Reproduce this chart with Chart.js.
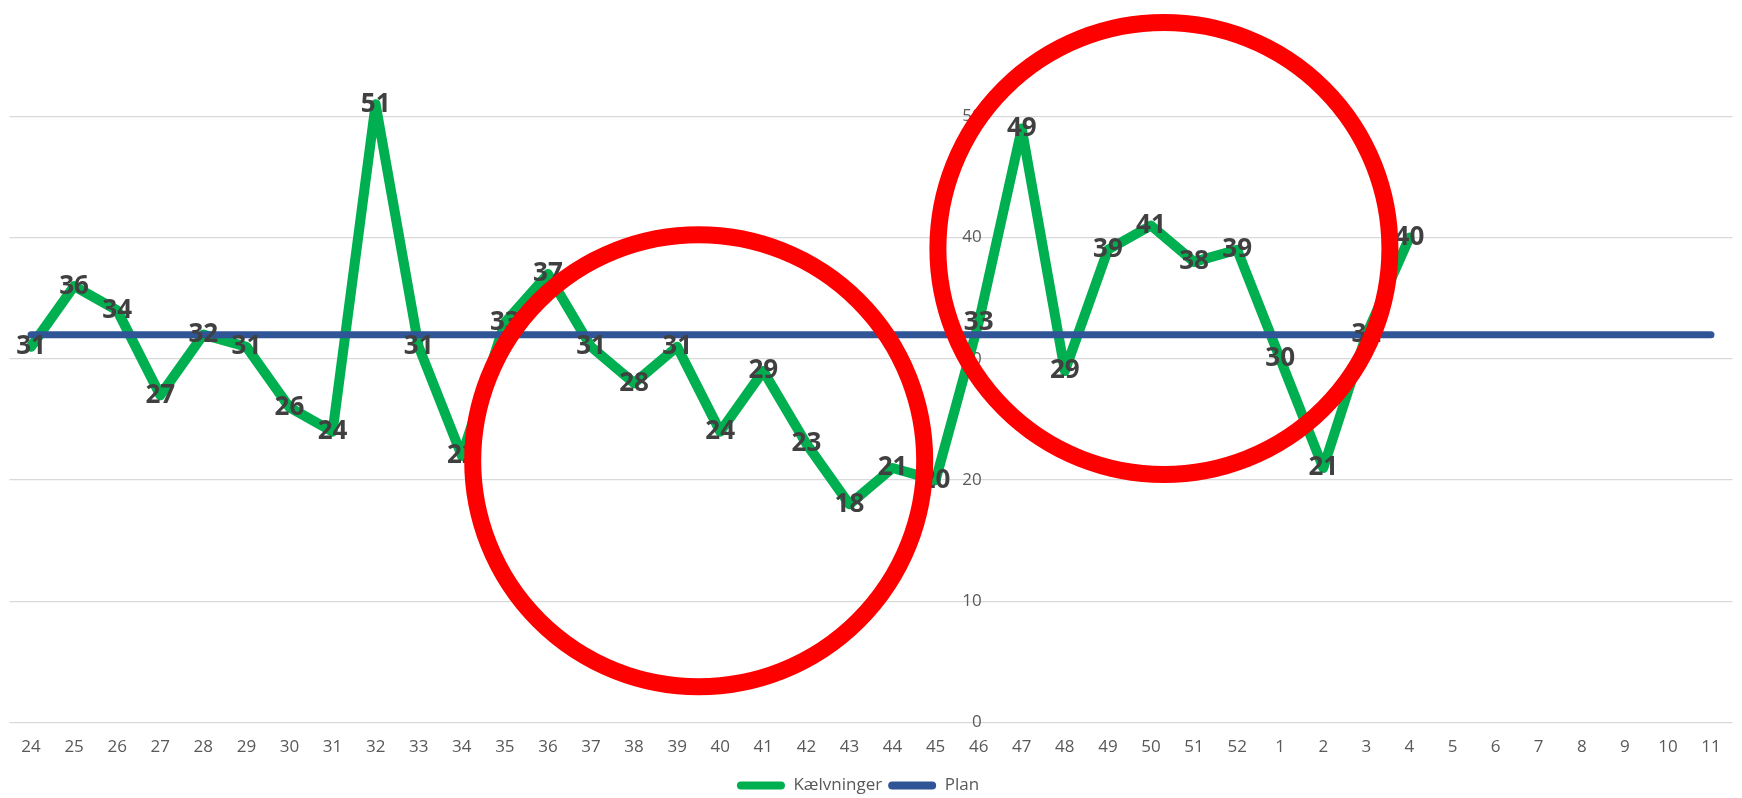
<!DOCTYPE html>
<html lang="da">
<head>
<meta charset="utf-8">
<title>Kælvninger pr. uge</title>
<script src="https://cdn.jsdelivr.net/npm/chart.js@4/dist/chart.umd.min.js"></script>
<style>
  html, body { margin: 0; padding: 0; background: #ffffff; }
  #wrap { position: relative; width: 1742px; height: 798px; }
</style>
</head>
<body>
<div id="wrap"><canvas id="chart"></canvas></div>
<script>
// Week numbers along the category axis (week 24 to week 11 of the next year)
const weeks = ['24','25','26','27','28','29','30','31','32','33','34','35','36','37','38','39','40','41','42','43','44','45','46','47','48','49','50','51','52','1','2','3','4','5','6','7','8','9','10','11'];

// Calvings per week (no registrations yet from week 5)
const calvings = [31,36,34,27,32,31,26,24,51,31,22,33,37,31,28,31,24,29,23,18,21,20,33,49,29,39,41,38,39,30,21,32,40,null,null,null,null,null,null,null];

// Planned calvings per week
const plan = [32,32,32,32,32,32,32,32,32,32,32,32,32,32,32,32,32,32,32,32,32,32,32,32,32,32,32,32,32,32,32,32,32,32,32,32,32,32,32,32];

// Value axis ticks
const valueTicks = [0,10,20,30,40,50];

const GREEN = '#00B050';
const BLUE = '#2F5597';
const TEXT = '#595959';

// Red rings that highlight two periods, centred in axis units (category index, value)
const highlightRings = [
  { x: 15.5, y: 21.6, radius: 226 },
  { x: 26.3, y: 39.1, radius: 226 }
];

// Value labels centred on each calving point, then the red rings on top
const overlayPlugin = {
  id: 'overlay',
  afterLayout(chart) {
    // nudge the legend a little left of the canvas centre
    if (chart.legend) {
      chart.legend.left -= 13;
      chart.legend.right -= 13;
    }
  },
  afterDatasetsDraw(chart) {
    const ctx = chart.ctx;
    const meta = chart.getDatasetMeta(0);
    ctx.save();
    ctx.font = 'bold 26px "Open Sans"';
    ctx.fillStyle = '#404040';
    ctx.textAlign = 'center';
    ctx.textBaseline = 'middle';
    meta.data.forEach((pt, i) => {
      const v = chart.data.datasets[0].data[i];
      if (v === null || v === undefined) return;
      ctx.fillText(String(v), pt.x, pt.y);
    });
    ctx.restore();

    const xs = chart.scales.x, ys = chart.scales.y;
    ctx.save();
    ctx.strokeStyle = '#FF0000';
    ctx.lineWidth = 17;
    highlightRings.forEach(r => {
      const cx = xs.getPixelForValue(r.x);
      const cy = ys.getPixelForValue(r.y);
      ctx.beginPath();
      ctx.arc(cx, cy, r.radius, 0, Math.PI * 2);
      ctx.stroke();
    });
    ctx.restore();
  }
};

const legendLabels = (chart) =>
  Chart.defaults.plugins.legend.labels.generateLabels(chart).map(l => ({
    ...l, fillStyle: l.strokeStyle, lineWidth: 0
  }));

new Chart(document.getElementById('chart'), {
  type: 'line',
  data: {
    labels: weeks,
    datasets: [
      {
        label: 'Kælvninger',
        data: calvings,
        borderColor: GREEN,
        backgroundColor: GREEN,
        borderWidth: 10,
        borderCapStyle: 'round',
        borderJoinStyle: 'round',
        pointRadius: 0,
        pointHoverRadius: 0,
        tension: 0,
        order: 2
      },
      {
        label: 'Plan',
        data: plan,
        borderColor: BLUE,
        backgroundColor: BLUE,
        borderWidth: 7,
        borderCapStyle: 'round',
        pointRadius: 0,
        pointHoverRadius: 0,
        tension: 0,
        order: 1
      }
    ]
  },
  options: {
    responsive: true,
    maintainAspectRatio: false,
    animation: false,
    devicePixelRatio: 1,
    layout: { padding: { left: 9.5, right: 9.5, top: 0, bottom: -6 } },
    plugins: {
      tooltip: { enabled: false },
      legend: {
        position: 'bottom',
        labels: {
          generateLabels: legendLabels,
          sort: (a, b) => a.datasetIndex - b.datasetIndex,
          boxWidth: 48,
          boxHeight: 8,
          useBorderRadius: true,
          borderRadius: 4,
          padding: 6,
          color: TEXT,
          font: { family: '"Open Sans"', size: 17 }
        }
      }
    },
    scales: {
      x: {
        type: 'category',
        offset: true,
        grid: { display: false, drawTicks: false },
        border: { display: false },
        ticks: {
          color: TEXT,
          font: { family: '"Open Sans"', size: 17 },
          padding: 14,
          maxRotation: 0,
          autoSkip: false
        }
      },
      y: {
        position: { x: 22.07 },
        min: 0,
        max: 59.6,
        afterBuildTicks(scale) {
          scale.ticks = valueTicks.map(v => ({ value: v }));
        },
        afterFit(scale) {
          // the axis sits inside the plot, so it needs no room above or below
          scale.paddingTop = 0;
          scale.paddingBottom = 0;
        },
        grid: { color: '#D9D9D9', lineWidth: 1.3, drawTicks: false },
        border: { display: false },
        ticks: {
          color: TEXT,
          font: { family: '"Open Sans"', size: 17 },
          padding: 4
        }
      }
    }
  },
  plugins: [overlayPlugin]
});
</script>
</body>
</html>
